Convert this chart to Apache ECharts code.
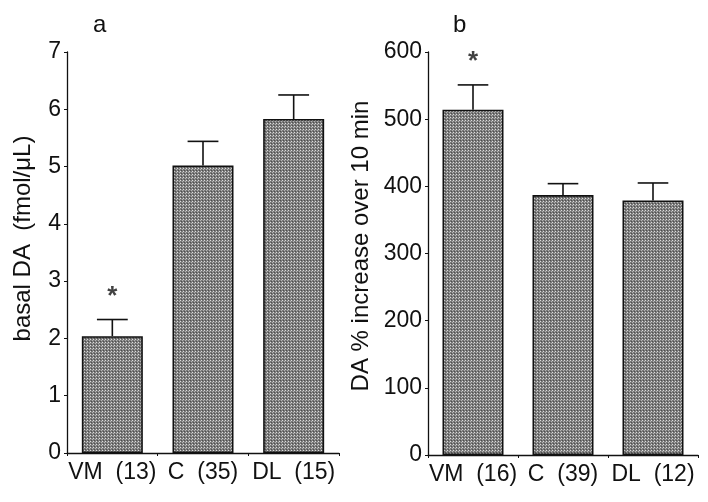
<!DOCTYPE html>
<html><head><meta charset="utf-8">
<script src="https://cdn.jsdelivr.net/npm/echarts@6/dist/echarts.min.js"></script>
<style>html,body{margin:0;padding:0;background:#fff}#c{width:708px;height:502px}</style>
</head><body><div id="c"></div>
<script>
// ---- data ----
const categoriesA = ['VM  (13)', 'C  (35)', 'DL  (15)'];
const valuesA = [2.04, 5.02, 5.83];
const errorsA = [0.29, 0.42, 0.42];
const starA = [2.83, null, null];
const ticksA = { min: 0, max: 7, interval: 1 };

const categoriesB = ['VM  (16)', 'C  (39)', 'DL  (12)'];
const valuesB = [514, 387, 379];
const errorsB = [37, 17, 26];
const starB = [594, null, null];
const ticksB = { min: 0, max: 600, interval: 100 };

// ---- stipple pattern ----
const pc = document.createElement('canvas');
pc.width = 3; pc.height = 3;
const px = pc.getContext('2d');
px.fillStyle = '#7a7a7a'; px.fillRect(0, 0, 3, 3);
px.fillStyle = '#dcdcdc'; px.fillRect(0, 0, 1, 1);
px.fillStyle = '#b4b4b4'; px.fillRect(2, 1, 1, 1);
px.fillStyle = '#4e4e4e'; px.fillRect(1, 2, 1, 1);
const stipple = { image: pc, repeat: 'repeat' };

const FONT = 'Liberation Sans, Arial, Helvetica, sans-serif';

function errRender(params, api) {
  const x = api.value(0), v = api.value(1), e = api.value(2);
  const p0 = api.coord([x, v]);
  const p1 = api.coord([x, v + e]);
  const half = api.size([1, 0])[0] * 0.17;
  const st = { stroke: '#111', lineWidth: 1.6 };
  return { type: 'group', children: [
    { type: 'line', shape: { x1: p0[0], y1: p0[1], x2: p1[0], y2: p1[1] }, style: st },
    { type: 'line', shape: { x1: p1[0] - half, y1: p1[1], x2: p1[0] + half, y2: p1[1] }, style: st }
  ]};
}

function xAxisCfg(idx, cats) {
  return {
    type: 'category', gridIndex: idx, data: cats,
    axisLine: { lineStyle: { color: '#111', width: 1.3 } },
    axisTick: { show: true, alignWithLabel: false, length: 3, lineStyle: { color: '#111' } },
    axisLabel: { interval: 0, hideOverlap: false, fontSize: 23, color: '#111', fontFamily: FONT, margin: 8 }
  };
}
function yAxisCfg(idx, t, name, gap, pad) {
  return {
    type: 'value', gridIndex: idx, min: t.min, max: t.max, interval: t.interval,
    name: name, nameLocation: 'middle', nameGap: gap,
    nameTextStyle: { fontSize: 24, color: '#111', fontFamily: FONT, padding: pad },
    axisLine: { show: true, lineStyle: { color: '#111', width: 1.3 } },
    axisTick: { show: true, length: 3, lineStyle: { color: '#111' } },
    axisLabel: { fontSize: 23, color: '#111', fontFamily: FONT, margin: 6 },
    splitLine: { show: false }
  };
}

const chart = echarts.init(document.getElementById('c'), null, { renderer: 'canvas' });
chart.setOption({
  backgroundColor: '#fff',
  animation: false,
  title: [
    { text: 'a', left: 88, top: 8, textStyle: { fontSize: 24, fontWeight: 'normal', color: '#111', fontFamily: FONT } },
    { text: 'b', left: 448, top: 8, textStyle: { fontSize: 24, fontWeight: 'normal', color: '#111', fontFamily: FONT } }
  ],
  grid: [
    { left: 67, right: 369, top: 52, bottom: 49 },
    { left: 428, right: 10, top: 52, bottom: 47 }
  ],
  xAxis: [xAxisCfg(0, categoriesA), xAxisCfg(1, categoriesB)],
  yAxis: [
    yAxisCfg(0, ticksA, 'basal DA  (fmol/μL)', 32, [0, 0, 0, 28]),
    yAxisCfg(1, ticksB, 'DA % increase over 10 min', 55, [0, 0, 0, 15])
  ],
  series: [
    { type: 'bar', xAxisIndex: 0, yAxisIndex: 0, data: valuesA, barWidth: 61,
      itemStyle: { color: stipple, borderColor: '#111', borderWidth: 1.6 } },
    { type: 'bar', xAxisIndex: 1, yAxisIndex: 1, data: valuesB, barWidth: 61,
      itemStyle: { color: stipple, borderColor: '#111', borderWidth: 1.6 } },
    { type: 'custom', xAxisIndex: 0, yAxisIndex: 0, renderItem: errRender, z: 5,
      data: valuesA.map((v, i) => [i, v, errorsA[i]]) },
    { type: 'custom', xAxisIndex: 1, yAxisIndex: 1, renderItem: errRender, z: 5,
      data: valuesB.map((v, i) => [i, v, errorsB[i]]) },
    { type: 'scatter', xAxisIndex: 0, yAxisIndex: 0, symbolSize: 0,
      data: starA.map((v, i) => v == null ? null : [i, v]).filter(d => d),
      label: { show: true, formatter: '*', position: 'inside', fontSize: 26, fontWeight: 'bold', color: '#111', fontFamily: FONT, offset: [0, 6] } },
    { type: 'scatter', xAxisIndex: 1, yAxisIndex: 1, symbolSize: 0,
      data: starB.map((v, i) => v == null ? null : [i, v]).filter(d => d),
      label: { show: true, formatter: '*', position: 'inside', fontSize: 26, fontWeight: 'bold', color: '#111', fontFamily: FONT, offset: [0, 6] } }
  ]
});
</script></body></html>
